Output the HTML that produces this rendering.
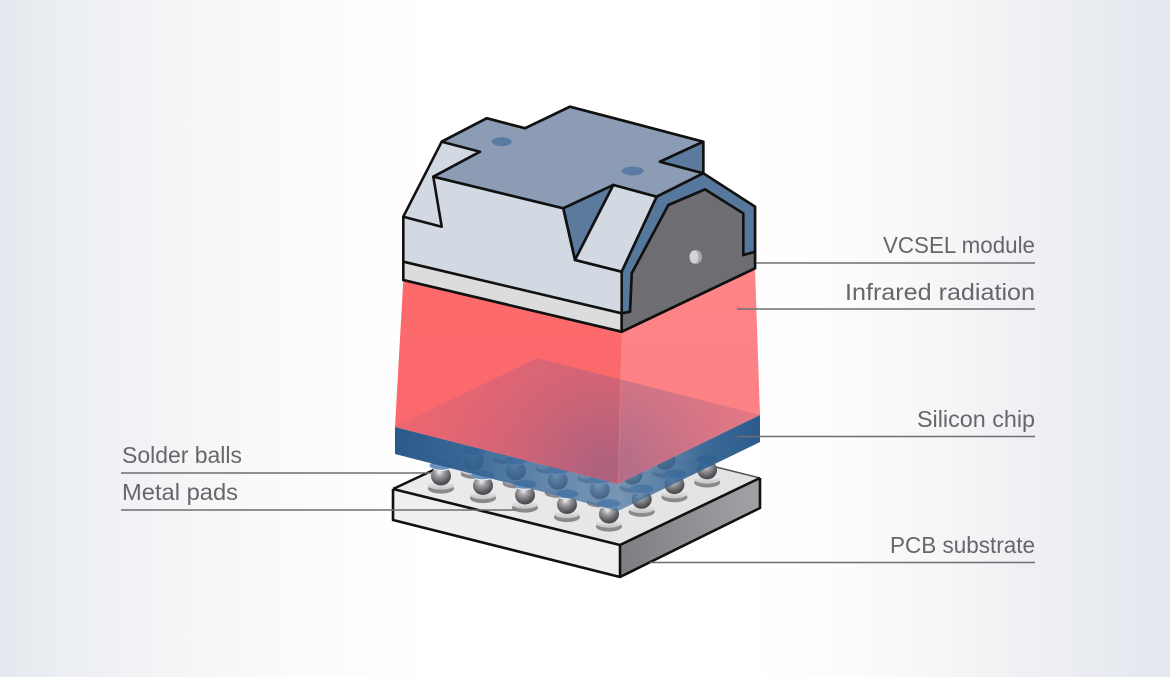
<!DOCTYPE html>
<html>
<head>
<meta charset="utf-8">
<style>
html,body{margin:0;padding:0;}
body{width:1170px;height:677px;overflow:hidden;
background:linear-gradient(to right,#e5e9ef 0%,#ebeef2 5%,#f1f2f5 11%,#f7f7f8 18%,#fbfbfb 25%,#fdfdfd 31%,#ffffff 37%,#ffffff 64%,#fdfdfd 70%,#f9f9fa 77%,#f4f4f6 83%,#eeeff3 89%,#e9ecf1 94%,#e4e8ee 100%);}
svg{display:block;}
text{font-family:"Liberation Sans",sans-serif;font-size:23px;fill:#66676b;}
</style>
</head>
<body>
<svg width="1170" height="677" viewBox="0 0 1170 677" xmlns="http://www.w3.org/2000/svg">
<defs>
  <radialGradient id="ballg" cx="0.42" cy="0.3" r="0.75">
    <stop offset="0" stop-color="#eeeeee"/>
    <stop offset="0.3" stop-color="#a2a2a6"/>
    <stop offset="0.75" stop-color="#58585d"/>
    <stop offset="1" stop-color="#404044"/>
  </radialGradient>
  <linearGradient id="padg" x1="0" y1="0" x2="0" y2="1">
    <stop offset="0" stop-color="#f6f6f6"/>
    <stop offset="1" stop-color="#c2c2c4"/>
  </linearGradient>
  <linearGradient id="pcbtop" x1="393" y1="489" x2="760" y2="478" gradientUnits="userSpaceOnUse">
    <stop offset="0" stop-color="#ececec"/>
    <stop offset="1" stop-color="#e2e2e3"/>
  </linearGradient>
  <linearGradient id="pcbright" x1="620" y1="0" x2="760" y2="0" gradientUnits="userSpaceOnUse">
    <stop offset="0" stop-color="#7e7e82"/>
    <stop offset="1" stop-color="#a2a2a6"/>
  </linearGradient>
  <linearGradient id="bandL" x1="395" y1="0" x2="618" y2="0" gradientUnits="userSpaceOnUse">
    <stop offset="0" stop-color="#2b5b8b" stop-opacity="1"/>
    <stop offset="0.28" stop-color="#2e5e8e" stop-opacity="0.93"/>
    <stop offset="0.7" stop-color="#3a6898" stop-opacity="0.58"/>
    <stop offset="1" stop-color="#45709c" stop-opacity="0.45"/>
  </linearGradient>
  <linearGradient id="bandR" x1="760" y1="0" x2="618" y2="0" gradientUnits="userSpaceOnUse">
    <stop offset="0" stop-color="#2b5b8b" stop-opacity="1"/>
    <stop offset="0.4" stop-color="#2f5f8f" stop-opacity="0.88"/>
    <stop offset="1" stop-color="#45709c" stop-opacity="0.45"/>
  </linearGradient>
  <linearGradient id="beamL" x1="0" y1="280" x2="0" y2="480" gradientUnits="userSpaceOnUse">
    <stop offset="0" stop-color="#fe6a6c"/>
    <stop offset="1" stop-color="#f9686e"/>
  </linearGradient>
  <linearGradient id="beamR" x1="0" y1="270" x2="0" y2="480" gradientUnits="userSpaceOnUse">
    <stop offset="0" stop-color="#fe8486"/>
    <stop offset="1" stop-color="#fb8086"/>
  </linearGradient>
  <radialGradient id="chiptop" cx="605" cy="472" r="240" gradientUnits="userSpaceOnUse">
    <stop offset="0" stop-color="#6a5c8c" stop-opacity="0.55"/>
    <stop offset="0.45" stop-color="#8a5c84" stop-opacity="0.33"/>
    <stop offset="1" stop-color="#b0587a" stop-opacity="0.1"/>
  </radialGradient>
  <g id="ball">
    <ellipse cx="0" cy="2.6" rx="13" ry="5" fill="#8a8a8e"/>
    <ellipse cx="0" cy="-1" rx="13" ry="4.8" fill="url(#padg)"/>
    <ellipse cx="0" cy="-10" rx="10" ry="9.5" fill="url(#ballg)"/>
    <ellipse cx="0" cy="-18" rx="8.5" ry="3" fill="#f0f0f0"/>
    <ellipse cx="0" cy="-20.5" rx="11.5" ry="4.3" fill="#6a93bf"/>
  </g>
</defs>

<!-- PCB substrate -->
<polygon points="393,489 533,422 760,478 620,545" fill="url(#pcbtop)"/>
<polygon points="393,489 620,545 620,577 393,520" fill="#efefef"/>
<polygon points="620,545 760,478 760,508 620,577" fill="url(#pcbright)"/>
<line x1="700" y1="463" x2="760" y2="478" stroke="#555" stroke-width="1.5"/>
<line x1="393" y1="489" x2="440" y2="467" stroke="#111" stroke-width="2.4"/>
<polyline points="393,489 620,545 760,478" fill="none" stroke="#111" stroke-width="2.6" stroke-linejoin="round"/>
<line x1="620" y1="545" x2="620" y2="577" stroke="#111" stroke-width="2.6"/>
<polyline points="393,489 393,520 620,577 760,508 760,478" fill="none" stroke="#111" stroke-width="2.6" stroke-linejoin="round"/>

<!-- Solder balls (sorted back to front) -->
<use href="#ball" x="539.1" y="441.9"/>
<use href="#ball" x="581.1" y="451.4"/>
<use href="#ball" x="506.4" y="456.6"/>
<use href="#ball" x="623.1" y="460.9"/>
<use href="#ball" x="548.4" y="466.1"/>
<use href="#ball" x="665.1" y="470.4"/>
<use href="#ball" x="473.7" y="471.3"/>
<use href="#ball" x="590.4" y="475.6"/>
<use href="#ball" x="707.1" y="479.9"/>
<use href="#ball" x="515.7" y="480.8"/>
<use href="#ball" x="632.4" y="485.1"/>
<use href="#ball" x="441" y="486"/>
<use href="#ball" x="557.7" y="490.3"/>
<use href="#ball" x="674.4" y="494.6"/>
<use href="#ball" x="483" y="495.5"/>
<use href="#ball" x="599.7" y="499.8"/>
<use href="#ball" x="525" y="505"/>
<use href="#ball" x="641.7" y="509.3"/>
<use href="#ball" x="567" y="514.5"/>
<use href="#ball" x="609" y="524"/>

<!-- Silicon chip -->
<polygon points="395,427 537,358 760,415 760,442 618,511 395,454" fill="#4d7aa8" fill-opacity="0.45"/>
<polygon points="395,427 618,484 618,511 395,454" fill="url(#bandL)"/>
<polygon points="618,484 760,415 760,442 618,511" fill="url(#bandR)"/>

<!-- Infrared beam -->
<polygon points="403.3,280 621.7,331.7 618,484 395,427" fill="url(#beamL)"/>
<polygon points="621.7,331.7 755,268.3 760,415 618,484" fill="url(#beamR)"/>
<polygon points="395,427 537,358 760,415 618,484" fill="url(#chiptop)"/>
<line x1="621.7" y1="332" x2="618.5" y2="484" stroke="#f07a7e" stroke-width="1" stroke-opacity="0.6"/>

<!-- VCSEL module -->
<g stroke="#111" stroke-width="2.6" stroke-linejoin="round" stroke-linecap="round">
  <polygon points="403.3,216.7 441.7,141.7 486.7,118.3 525,128.3 570,106.7 703.3,141.7 703.3,173.3 755,206.7 755,268.3 621.7,331.7 403.3,280" fill="#d2d9e2"/>
  <polygon points="441.7,141.7 486.7,118.3 525,128.3 570,106.7 703.3,141.7 660,161.7 703.3,173.3 656.7,196.7 613.3,185 563.3,208.3 433.3,176.7 480,151.7" fill="#8b9cb4"/>
  <polygon points="703.3,141.7 660,161.7 703.3,173.3" fill="#5b7a9e"/>
  <polygon points="563.3,208.3 613.3,185 575,260" fill="#5b7a9e"/>
  <polygon points="575,260 613.3,185 656.7,196.7 621.7,271.7" fill="#d2d9e2"/>
  <polyline points="403.3,216.7 441.7,226.7 433.3,176.7" fill="none"/>
  <polyline points="563.3,208.3 575,260 621.7,271.7" fill="none"/>
  <polygon points="403.3,261.7 621.7,313.3 621.7,331.7 403.3,280" fill="#dcdcdc"/>
  <polygon points="621.7,313.3 630,311.7 631.7,273.3 668.3,205 705,189.3 743.3,213.3 743.3,255 755,251.7 755,268.3 621.7,331.7" fill="#6e6d72"/>
  <polygon points="621.7,313.3 621.7,271.7 656.7,196.7 703.3,173.3 755,206.7 755,251.7 743.3,255 743.3,213.3 705,189.3 668.3,205 631.7,273.3 630,311.7" fill="#56789d"/>
</g>
<ellipse cx="501.7" cy="141.7" rx="10" ry="4.5" fill="#5a7ba3"/>
<ellipse cx="632.7" cy="171" rx="11" ry="4.5" fill="#5a7ba3"/>
<ellipse cx="696" cy="257" rx="6" ry="7" fill="#a9a9ab"/>
<ellipse cx="694" cy="257" rx="4.5" ry="6.5" fill="#d4d4d6"/>

<!-- Label lines -->
<g stroke="#6e6e72" stroke-width="1.6">
  <line x1="756" y1="263" x2="1035" y2="263"/>
  <line x1="737" y1="309" x2="1035" y2="309"/>
  <line x1="737" y1="436.5" x2="1035" y2="436.5"/>
  <line x1="650" y1="562.5" x2="1035" y2="562.5"/>
  <line x1="121" y1="473" x2="431" y2="473"/>
  <line x1="121" y1="510" x2="516" y2="510"/>
</g>

<!-- Labels -->
<text x="883" y="253" textLength="152" lengthAdjust="spacingAndGlyphs">VCSEL module</text>
<text x="845" y="300" textLength="190" lengthAdjust="spacingAndGlyphs">Infrared radiation</text>
<text x="917" y="427" textLength="118" lengthAdjust="spacingAndGlyphs">Silicon chip</text>
<text x="890" y="553" textLength="145" lengthAdjust="spacingAndGlyphs">PCB substrate</text>
<text x="122" y="463" textLength="120" lengthAdjust="spacingAndGlyphs">Solder balls</text>
<text x="122" y="500" textLength="116" lengthAdjust="spacingAndGlyphs">Metal pads</text>
</svg>
</body>
</html>
